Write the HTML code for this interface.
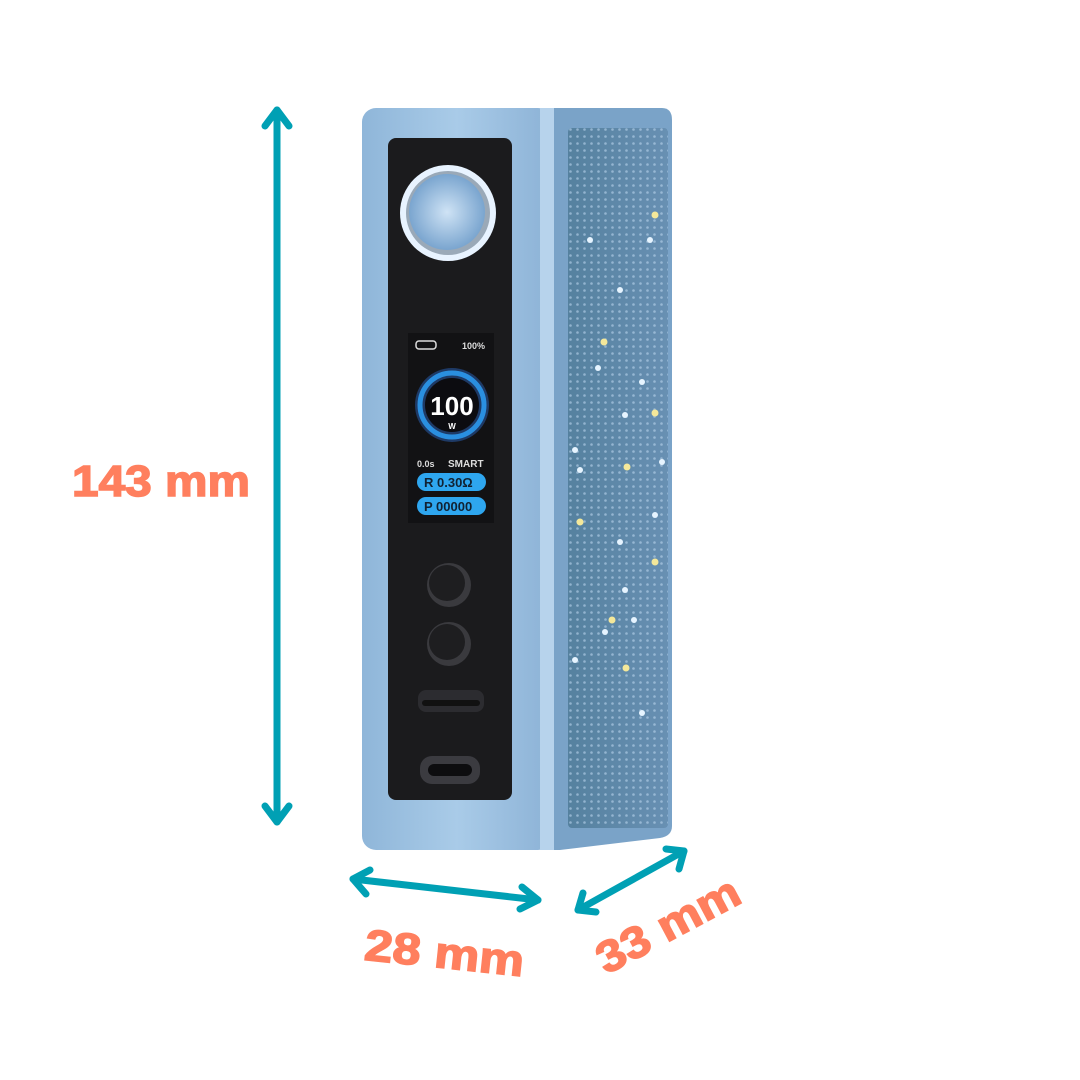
<!DOCTYPE html>
<html><head><style>
html,body{margin:0;padding:0;background:#fff;}
svg{display:block}
text{font-family:"Liberation Sans",sans-serif;font-weight:bold;}
</style></head><body>
<svg width="1080" height="1080" viewBox="0 0 1080 1080" xmlns="http://www.w3.org/2000/svg">
<defs>
<linearGradient id="front" x1="0" x2="1"><stop offset="0" stop-color="#8fb6d9"/><stop offset="0.5" stop-color="#a9cbe8"/><stop offset="1" stop-color="#8cb2d6"/></linearGradient>
<linearGradient id="side" x1="0" x2="1"><stop offset="0" stop-color="#55819f"/><stop offset="1" stop-color="#6890b3"/></linearGradient>
<pattern id="dots" width="7" height="7" patternUnits="userSpaceOnUse"><circle cx="3.5" cy="3.5" r="1.3" fill="#b9d4ec" opacity="0.6"/></pattern>
<radialGradient id="knob"><stop offset="0" stop-color="#cfe3f5"/><stop offset="1" stop-color="#7aa5cf"/></radialGradient>
</defs>
<!-- side face -->
<path d="M548 108 L662 108 Q672 108 672 120 L672 826 Q672 836 660 838 L560 850 L548 850 Z" fill="#7aa3c8"/>
<rect x="568" y="128" width="100" height="700" rx="4" fill="url(#side)"/>
<rect x="568" y="128" width="100" height="700" rx="4" fill="url(#dots)"/>
<g fill="#e6f4ff">
<circle cx="590" cy="240" r="3"/><circle cx="650" cy="240" r="3"/><circle cx="620" cy="290" r="3"/><circle cx="598" cy="368" r="3"/><circle cx="642" cy="382" r="3"/><circle cx="625" cy="415" r="3"/><circle cx="575" cy="450" r="3"/><circle cx="580" cy="470" r="3"/><circle cx="662" cy="462" r="3"/><circle cx="655" cy="515" r="3"/><circle cx="620" cy="542" r="3"/><circle cx="625" cy="590" r="3"/><circle cx="605" cy="632" r="3"/><circle cx="634" cy="620" r="3"/><circle cx="575" cy="660" r="3"/><circle cx="642" cy="713" r="3"/></g>
<g fill="#f4e89a"><circle cx="655" cy="215" r="3.5"/><circle cx="604" cy="342" r="3.5"/><circle cx="655" cy="413" r="3.5"/><circle cx="627" cy="467" r="3.5"/><circle cx="580" cy="522" r="3.5"/><circle cx="655" cy="562" r="3.5"/><circle cx="612" cy="620" r="3.5"/><circle cx="626" cy="668" r="3.5"/></g>
<!-- front face -->
<rect x="362" y="108" width="190" height="742" rx="14" fill="url(#front)"/>
<rect x="540" y="108" width="14" height="742" fill="#b7d3ec"/>
<rect x="388" y="138" width="124" height="662" rx="8" fill="#1b1b1d"/>
<!-- knob -->
<circle cx="448" cy="213" r="48" fill="#e8f3ff"/>
<circle cx="448" cy="213" r="42" fill="#9aa9b8"/>
<circle cx="447" cy="212" r="38" fill="url(#knob)"/>
<!-- screen -->
<rect x="408" y="333" width="86" height="190" fill="#121214"/>
<rect x="416" y="341" width="20" height="8" rx="3" fill="none" stroke="#ddd" stroke-width="1.5"/>
<text x="462" y="349" font-size="9" fill="#ddd">100%</text>
<circle cx="452" cy="405" r="37" fill="#1e3a66"/>
<circle cx="452" cy="405" r="32" fill="none" stroke="#2a8fe0" stroke-width="5"/>
<circle cx="452" cy="405" r="27" fill="#0c0c10"/>
<text x="452" y="415" font-size="26" fill="#fff" text-anchor="middle" font-weight="normal">100</text>
<text x="452" y="429" font-size="8" fill="#fff" text-anchor="middle">W</text>
<text x="417" y="467" font-size="9" fill="#ddd">0.0s</text>
<text x="448" y="467" font-size="10" fill="#ddd">SMART</text>
<rect x="417" y="473" width="69" height="18" rx="9" fill="#2ea6ef"/>
<text x="424" y="487" font-size="13" fill="#123" font-weight="normal">R 0.30Ω</text>
<rect x="417" y="497" width="69" height="18" rx="9" fill="#2ea6ef"/>
<text x="424" y="511" font-size="13" fill="#123" font-weight="normal">P 00000</text>
<!-- buttons -->
<circle cx="449" cy="585" r="22" fill="#3a3a3e"/><circle cx="447" cy="583" r="18" fill="#1e1e20"/>
<circle cx="449" cy="644" r="22" fill="#3a3a3e"/><circle cx="447" cy="642" r="18" fill="#1e1e20"/>
<rect x="418" y="690" width="66" height="22" rx="8" fill="#2c2c30"/><rect x="422" y="700" width="58" height="6" rx="3" fill="#111"/>
<rect x="420" y="756" width="60" height="28" rx="12" fill="#3b3b40"/><rect x="428" y="764" width="44" height="12" rx="6" fill="#0d0d0f"/>
<!-- dimension arrows -->
<g stroke="#00a0b4" stroke-width="7" stroke-linecap="round" stroke-linejoin="round" fill="none">
<line x1="277" y1="110" x2="277" y2="822"/>
<polyline points="265,126 277,110 289,126"/>
<polyline points="265,806 277,822 289,806"/>
<line x1="353" y1="879" x2="538" y2="900"/>
<polyline points="370,870 353,879 366,894"/>
<polyline points="522,887 538,900 520,909"/>
<line x1="578" y1="910" x2="684" y2="851"/>
<polyline points="596,912 578,910 583,893"/>
<polyline points="666,849 684,851 679,869"/>
</g>
<g fill="#ff7f5e" stroke="#ff7f5e" stroke-width="1.5">
<text x="72" y="496" font-size="44" textLength="178" lengthAdjust="spacingAndGlyphs">143 mm</text>
<text x="364" y="968" font-size="44" textLength="160" lengthAdjust="spacingAndGlyphs" transform="rotate(6 444 958)">28 mm</text>
<text x="590" y="940" font-size="44" textLength="156" lengthAdjust="spacingAndGlyphs" transform="rotate(-28 668 925)">33 mm</text>
</g>
</svg>
</body></html>
